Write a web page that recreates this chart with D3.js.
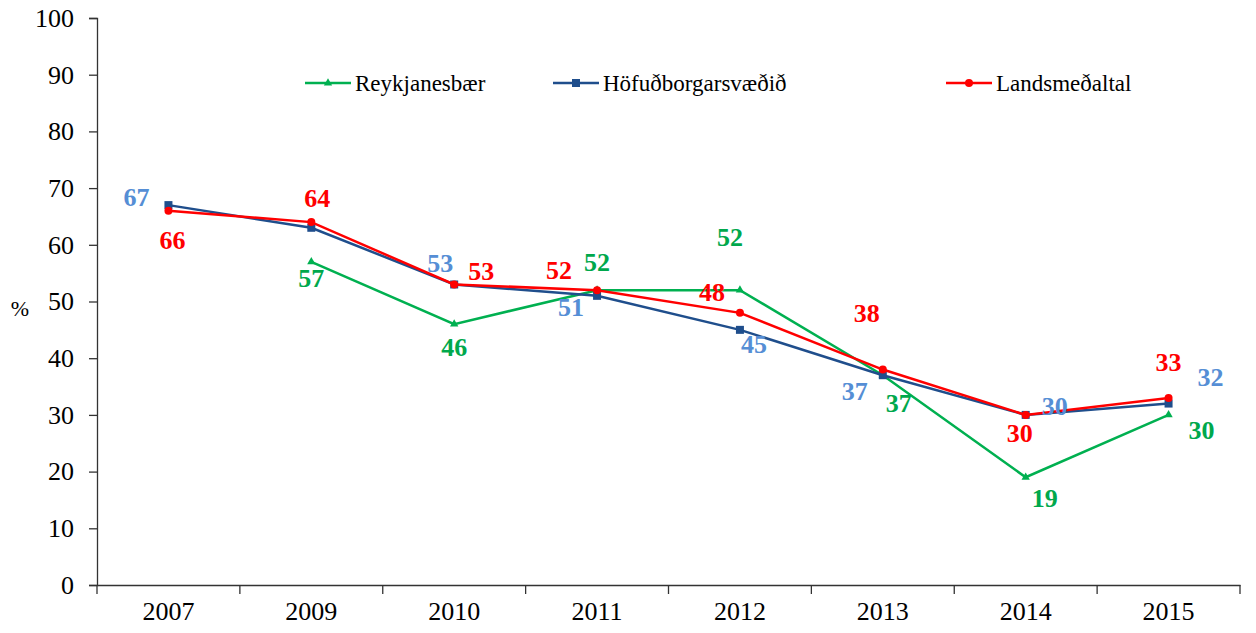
<!DOCTYPE html>
<html>
<head>
<meta charset="utf-8">
<script src="https://cdn.jsdelivr.net/npm/d3@7"></script>
<style>
  body { margin: 0; background: #fff; }
</style>
</head>
<body>
<div id="chart"></div>
<script>
const years = ['2007', '2009', '2010', '2011', '2012', '2013', '2014', '2015'];
const reykjanesbaer = [null, 57, 46, 52, 52, 37, 19, 30];
const hofudborgarsvaedid = [67, 63, 53, 51, 45, 37, 30, 32];
const landsmedaltal = [66, 64, 53, 52, 48, 38, 30, 33];
const yTicks = [0, 10, 20, 30, 40, 50, 60, 70, 80, 90, 100];

// label offsets (px) from each point, null = no label
const greenOff = [null, [0, 16], [0, 23], [0, -28], [-10, -53], [16, 28], [19, 21], [33, 15]];
const blueOff = [[-32, -8], null, [-14, -22], [-26, 11], [14, 14], [-28, 16], [29, -9], [42, -27]];
const redOff = [[4, 29], [6, -24], [27, -14], [-38, -20], [-28, -21], [-16, -57], [-6, 18], [0, -36]];

const series = [
  { name: 'Reykjanesbær', values: reykjanesbaer, color: '#00b050', label: '#00a84c', marker: 'triangle', off: greenOff },
  { name: 'Höfuðborgarsvæðið', values: hofudborgarsvaedid, color: '#1f4e8c', label: '#558ed5', marker: 'square', off: blueOff },
  { name: 'Landsmeðaltal', values: landsmedaltal, color: '#ff0000', label: '#ff0000', marker: 'circle', off: redOff }
];

const FONT = '"Liberation Serif", "Times New Roman", serif';
const W = 1256, H = 633;
const margin = { top: 18, right: 16, bottom: 48, left: 97 };
const width = W - margin.left - margin.right;
const height = H - margin.top - margin.bottom;

const svg = d3.select('#chart').append('svg').attr('width', W).attr('height', H)
  .attr('font-family', FONT);
const g = svg.append('g').attr('transform', `translate(${margin.left},${margin.top})`);

const x = d3.scaleBand().domain(years).range([0, width]);
const y = d3.scaleLinear().domain([0, 100]).range([height, 0]);
const cx = d => x(d) + x.bandwidth() / 2;

// y axis
const yAxis = g.append('g').call(d3.axisLeft(y).tickValues(yTicks).tickSize(8).tickPadding(15));
yAxis.attr('font-family', FONT);
yAxis.select('.domain').attr('stroke', '#333').attr('stroke-width', 1.3);
yAxis.selectAll('.tick line').attr('stroke', '#333').attr('stroke-width', 1.3);
yAxis.selectAll('.tick text').attr('font-size', 26).attr('fill', '#000');

// x axis
const xAxis = g.append('g').attr('transform', `translate(0,${height})`)
  .call(d3.axisBottom(x).tickSize(0).tickPadding(17));
xAxis.attr('font-family', FONT);
xAxis.select('.domain').attr('stroke', '#333').attr('stroke-width', 1.3);
xAxis.selectAll('.tick text').attr('font-size', 26).attr('fill', '#000');
const bounds = years.map(d => x(d)).concat([width]);
xAxis.selectAll('.bound').data(bounds).enter().append('line')
  .attr('x1', d => d).attr('x2', d => d).attr('y1', 0).attr('y2', 9)
  .attr('stroke', '#333').attr('stroke-width', 1.3);

svg.append('text').attr('x', 20).attr('y', 316).attr('text-anchor', 'middle')
  .attr('font-size', 22).text('%');

function drawMarker(sel, type, color, px, py) {
  if (type === 'triangle') {
    sel.append('path').attr('d', d3.symbol(d3.symbolTriangle, 30)())
      .attr('transform', `translate(${px},${py})`).attr('fill', color);
  } else if (type === 'square') {
    sel.append('rect').attr('x', px - 4).attr('y', py - 4).attr('width', 8).attr('height', 8).attr('fill', color);
  } else {
    sel.append('circle').attr('cx', px).attr('cy', py).attr('r', 4).attr('fill', color);
  }
}

const line = d3.line().defined(d => d[1] != null).x(d => cx(d[0])).y(d => y(d[1]));

series.forEach(s => {
  const pts = years.map((yr, i) => [yr, s.values[i]]);
  g.append('path').datum(pts).attr('d', line).attr('fill', 'none')
    .attr('stroke', s.color).attr('stroke-width', 2.5);
  pts.forEach(p => { if (p[1] != null) drawMarker(g, s.marker, s.color, cx(p[0]), y(p[1])); });
});

// data labels on top
series.forEach(s => {
  years.forEach((yr, i) => {
    const v = s.values[i], o = s.off[i];
    if (v == null || !o) return;
    g.append('text').attr('x', cx(yr) + o[0]).attr('y', y(v) + o[1])
      .attr('dy', '0.35em').attr('text-anchor', 'middle')
      .attr('font-size', 26).attr('font-weight', 'bold').attr('fill', s.label).text(v);
  });
});

// legend
const legendX = [305, 553, 946];
series.forEach((s, i) => {
  const lg = svg.append('g').attr('transform', `translate(${legendX[i]},83)`);
  lg.append('line').attr('x1', 0).attr('x2', 46).attr('y1', 0).attr('y2', 0)
    .attr('stroke', s.color).attr('stroke-width', 2.5);
  drawMarker(lg, s.marker, s.color, 23, 0);
  lg.append('text').attr('x', 50).attr('y', 0).attr('dy', '0.35em')
    .attr('font-size', 23).attr('fill', '#000').text(s.name);
});
</script>
</body>
</html>
